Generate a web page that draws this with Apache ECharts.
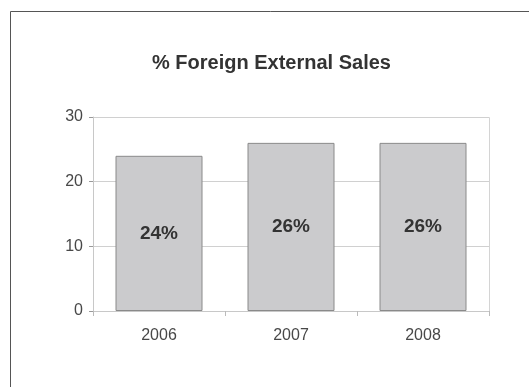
<!DOCTYPE html>
<html>
<head>
<meta charset="utf-8">
<script src="https://cdn.jsdelivr.net/npm/echarts@6/dist/echarts.min.js"></script>
<style>
  html, body { margin: 0; padding: 0; background: #fff; }
  #chart { width: 529px; height: 387px; }
</style>
</head>
<body>
<div id="chart"></div>
<script>
// Share of external sales made abroad, by year
const years = ['2006', '2007', '2008'];
const foreignShare = [24, 26, 26];
const yTicks = [0, 10, 20, 30];

const chart = echarts.init(document.getElementById('chart'));
const font = 'Liberation Sans, Arial, sans-serif';

chart.setOption({
  animation: false,
  backgroundColor: '#ffffff',
  title: {
    text: '% Foreign External Sales',
    left: 147,
    top: 48,
    textStyle: {
      fontFamily: font,
      fontSize: 20,
      fontWeight: 'bold',
      color: '#333333'
    }
  },
  graphic: [
    {
      // outer frame around the chart
      type: 'rect',
      shape: { x: 10.5, y: 11.5, width: 600, height: 500 },
      style: { fill: 'none', stroke: '#555555', lineWidth: 1 },
      silent: true
    },
    {
      // light border of the plot area
      type: 'rect',
      shape: { x: 93.5, y: 117.5, width: 396, height: 194 },
      style: { fill: 'none', stroke: '#d4d4d4', lineWidth: 1 },
      silent: true,
      z: -1
    }
  ],
  grid: {
    left: 93,
    right: 40,
    top: 117,
    bottom: 76,
    containLabel: false
  },
  xAxis: {
    type: 'category',
    data: years,
    axisLine: { lineStyle: { color: '#c8c8c8' } },
    axisTick: { show: true, length: 5, alignWithLabel: false, lineStyle: { color: '#bbbbbb' } },
    axisLabel: {
      color: '#484848',
      fontSize: 16,
      margin: 17,
      fontFamily: font
    }
  },
  yAxis: {
    type: 'value',
    min: yTicks[0],
    max: yTicks[yTicks.length - 1],
    interval: 10,
    axisLine: { show: true, lineStyle: { color: '#c8c8c8' } },
    axisTick: { show: true, length: 4, lineStyle: { color: '#999999' } },
    axisLabel: {
      color: '#484848',
      fontSize: 16,
      margin: 10,
      fontFamily: font
    },
    splitLine: { lineStyle: { color: '#d0d0d0' } }
  },
  series: [{
    type: 'bar',
    data: foreignShare,
    barWidth: 87,
    itemStyle: {
      color: '#cbcbcd',
      borderColor: '#8a8a8a',
      borderWidth: 1
    },
    label: {
      show: true,
      position: 'inside',
      formatter: '{c}%',
      fontSize: 19,
      fontWeight: 'bold',
      color: '#333333',
      fontFamily: font
    }
  }]
});
</script>
</body>
</html>
